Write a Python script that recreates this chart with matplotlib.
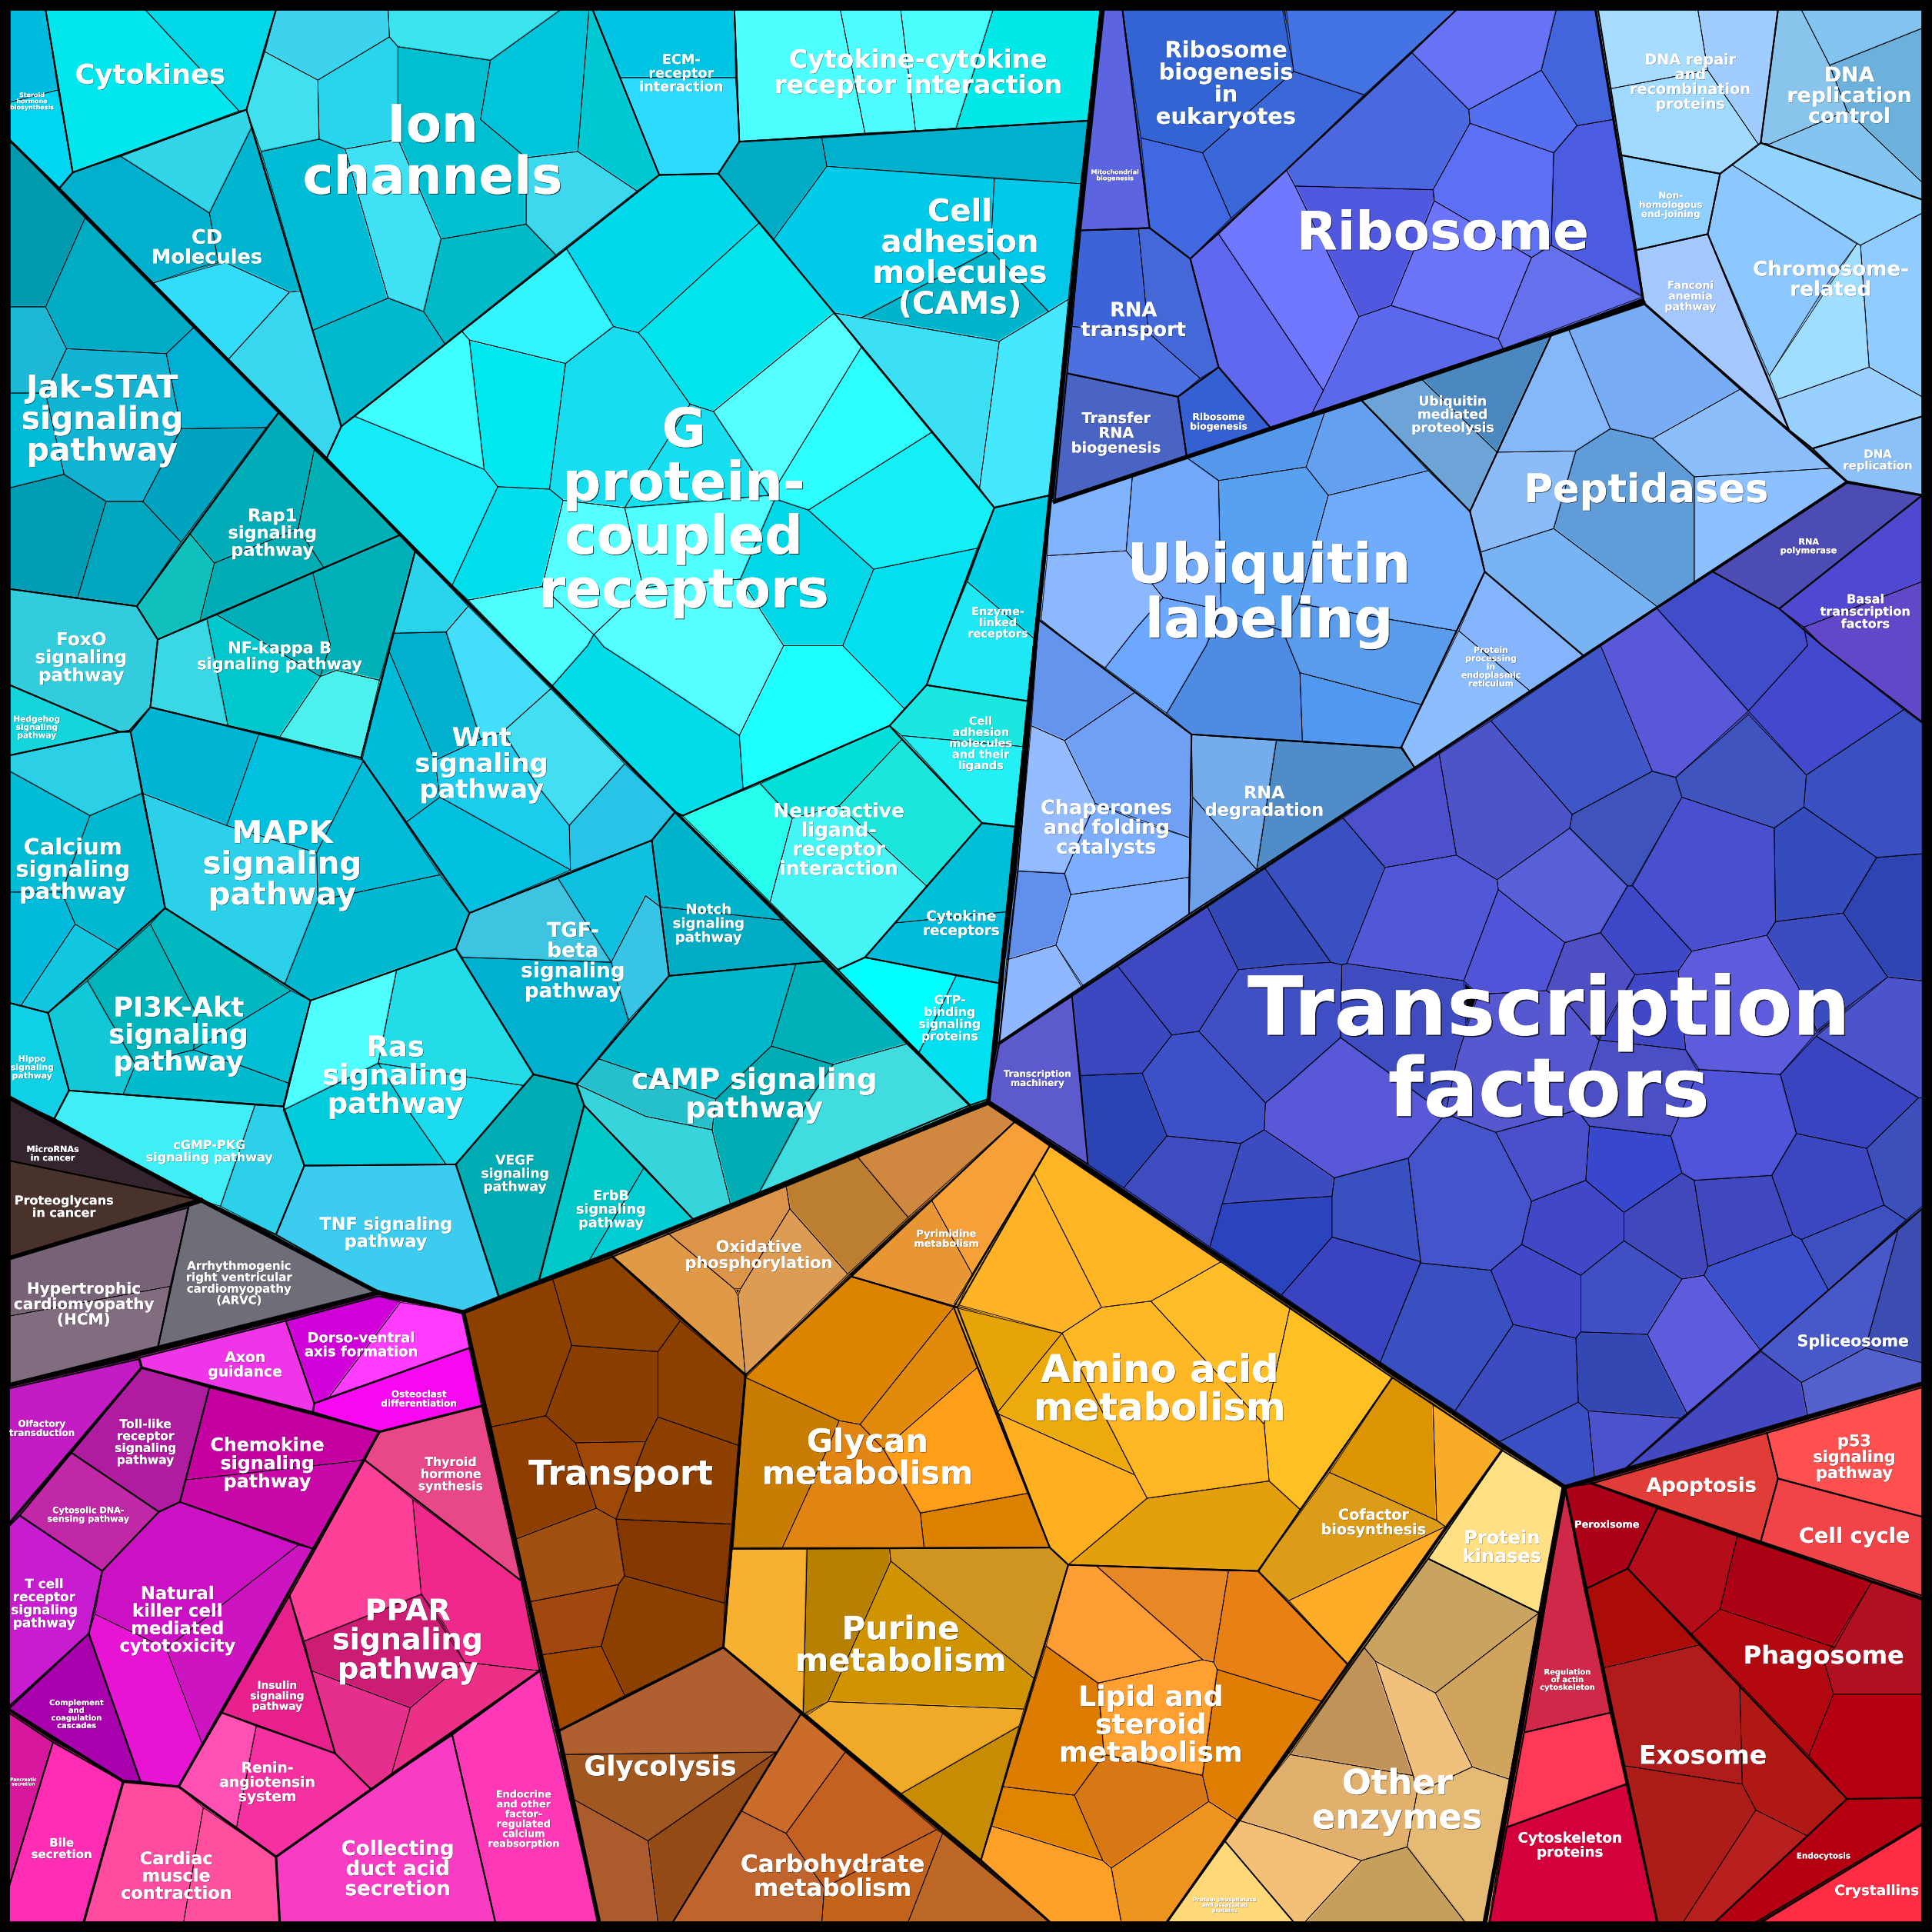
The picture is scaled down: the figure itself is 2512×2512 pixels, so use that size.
import matplotlib
matplotlib.use("Agg")
import matplotlib.pyplot as plt
import matplotlib.patheffects as pe
from matplotlib.patches import Polygon, Rectangle

# Voronoi treemap. Each cell: colour, then vertices x,y,x,y...
# TEAL: environmental information processing (upper block)
UPPER_CELLS = [
 ("#00bbdd",8,8,37,8,47,73,8,83),("#00d5f2",8,83,47,73,59,140,48,153,8,114),
 ("#00e8ee",37,8,118,8,194,90,59,140),("#00d8e8",118,8,224,8,200,89,194,90),
 ("#33d5e8",98,127,200,89,204,104,170,173),("#00b0cc",59,140,98,127,170,173,177,212,123,230,48,153),
 ("#00b5cf",170,173,204,104,244,236,235,237,183,213,177,212),("#33ddfa",123,230,183,213,235,237,185,292),
 ("#3ad5ee",185,292,235,237,244,236,277,346,265,372),
 ("#3dd2ee",224,8,315,8,316,30,258,65,215,42),("#3ce5ee",315,8,455,8,398,49,323,38,316,30),
 ("#40e0ee",215,42,258,65,259,113,212,123,200,89),("#28d5ea",258,65,316,30,323,38,323,113,280,121,259,113),
 ("#00bfd0",323,38,398,49,390,97,427,128,427,182,358,194,323,113),("#00c4da",398,49,455,8,478,8,469,123,427,128,390,97),
 ("#00c8d2",478,8,481,8,535,142,517,155,469,123),("#3dd8ee",469,123,517,155,451,207,427,182,427,128),
 ("#00bcd4",212,123,259,113,280,121,315,242,254,268),("#40e0f5",280,121,323,113,358,194,344,253,315,242),
 ("#00bac8",358,194,427,182,451,207,361,279,344,253),("#00b9cc",254,268,315,242,344,253,361,279,277,346),
 ("#00c4e4",481,8,596,8,597,63,503,63),("#2ddbff",503,63,597,63,600,115,583,141,535,142),
 ("#4dffff",596,8,682,8,702,108,600,115),("#4dfdff",682,8,731,8,743,106,702,108),
 ("#4cffff",731,8,806,8,776,104,743,106),("#00e8e8",806,8,893,8,883,98,776,104),
 ("#00acc4",583,141,600,115,667,112,671,135,628,194),("#00b0cc",667,112,883,98,877,149,671,135),
 ("#00cbe8",671,135,807,145,804,203,699,258,677,254,628,194),("#00c8e8",807,145,877,149,867,243,851,253,804,203),
 ("#00b4cc",699,258,804,203,851,253,811,277),("#3be0f5",677,254,811,277,795,396),
 ("#45e8ff",811,277,867,243,852,402,807,412,795,396),
 ("#00cee4",807,412,852,402,839,518,785,472),("#1fe8f5",785,472,839,518,834,569,752,556,764,523),
 ("#1ae8e0",722,589,752,556,834,569,831,606,732,597),("#22f0f5",732,597,831,606,824,671,797,668),
 ("#26ffee",554,662,617,636,643,664,625,732),("#00e0d8",617,636,722,589,732,600,681,654,643,664),
 ("#1ae6dc",732,600,797,668,752,719,681,654),("#45f5f5",643,664,681,654,752,719,702,777,680,787,625,732),
 ("#00c0d8",797,668,824,671,817,740,727,749),("#00bcdc",727,749,817,740,811,798,702,777),
 ("#00ffff",702,777,776,792,746,854,680,787),("#00e0f0",776,792,811,798,802,892,787,897,746,854),
]
GPCR_CELLS = [
 ("#40ffff",288,338,375,269,381,276,393,381),("#00e8f0",381,276,459,295,446,397,404,395,393,381),
 ("#33f5ff",375,269,460,202,498,265,459,295,381,276),("#00d8ec",460,202,535,142,583,141,616,181,524,265,518,270,498,265),
 ("#00e4ec",616,181,677,254,579,334,560,328,524,277,518,270,524,265),("#18dcef",459,295,498,265,518,270,524,277,560,328,507,412,457,406,446,397),
 ("#14eaf8",288,338,393,381,404,395,367,475,265,372,277,346),("#00deec",404,395,446,397,457,406,440,476,380,487,367,475),
 ("#4dffff",380,487,440,476,482,515,477,524,448,557),("#55ffff",457,406,507,412,522,477,482,515,440,476),
 ("#50ffff",507,412,624,402,629,405,601,470,522,477),("#55ffff",579,334,677,254,699,282,630,395,624,402),
 ("#16e0f0",560,328,579,334,624,402,507,412),("#2dffff",699,282,756,351,656,414,629,405,630,395),
 ("#14eef5",756,351,807,412,793,445,709,462,656,414),("#00d8e8",629,405,656,414,709,462,684,524,636,524,601,470),
 ("#00e0f0",709,462,793,445,764,523,752,556,734,575,684,524),("#1cffff",734,575,684,524,636,524,600,597,603,640,722,589),
 ("#55ffff",522,477,601,470,636,524,600,597,524,547,490,525,482,515),
 ("#00dce8",448,557,477,524,482,515,490,525,524,547,600,597,603,640,554,662,548,659),
]
# TEAL: signalling block below the diagonal
LOWER_CELLS = [
 ("#0099ae",8,114,69,177,37,249,8,249),("#00acc4",69,177,157,266,135,287,54,283,37,249),
 ("#1cb8d4",8,249,37,249,54,283,37,319,8,319),("#12b4d4",54,283,135,287,147,348,116,407,86,407,52,385,37,319),
 ("#00b0d4",157,266,226,335,216,347,147,348,135,287),("#00a4c0",147,348,216,347,147,440,116,407),
 ("#00bcd8",8,319,37,319,52,385,8,396),("#009db4",8,396,52,385,86,407,63,485,8,478),
 ("#00a5be",86,407,116,407,147,440,111,492,63,485),
 ("#00acb8",154,433,226,335,255,365,242,429,174,457),("#00b0b4",255,365,325,434,263,461,242,429),
 ("#00acb4",174,457,242,429,263,461,162,505),("#10c0bc",111,492,154,433,174,457,162,505,128,519),
 ("#3ad8e4",128,519,168,502,185,589,122,574),("#00aeb8",176,499,254,465,268,523,260,549),
 ("#00c8cc",168,502,176,499,260,549,227,598,185,589),("#00b0b8",254,465,325,434,337,447,308,552,273,544,260,549,268,523),
 ("#4cf0ec",260,549,273,544,308,552,293,615,227,598),
 ("#2ad5ec",337,447,380,492,362,513,319,514),("#44ddfa",380,492,447,559,408,594,390,600,362,513),
 ("#00b0cc",319,514,362,513,390,600,353,617,316,529),("#00bcd8",316,529,353,617,357,647,330,667,294,616),
 ("#44def2",447,559,507,620,462,670,437,639,408,594),("#1cccec",390,600,408,594,437,639,462,670,463,706,357,647,353,617),
 ("#00c0e0",330,667,357,647,463,706,381,741),("#28c4e8",507,620,548,659,529,682,463,707,462,670),
 ("#00b4d4",122,574,210,596,184,670,116,644,106,594),("#00c0e0",210,596,295,617,257,692,184,670),
 ("#00bbd8",295,617,357,710,258,731,257,692),("#2cd0e8",116,644,184,670,257,692,258,731,231,799,134,737),
 ("#00b8d0",258,731,357,710,381,741,370,770,252,812,231,799),
 ("#2bd0e6",8,613,97,594,106,594,115,644,73,662,8,626),("#00bcd4",8,626,73,662,50,724,8,724),
 ("#00b8d0",73,662,115,644,134,737,96,771,61,750,50,724),("#00bbdc",8,724,50,724,61,750,17,816,8,814),
 ("#12c8e0",61,750,96,771,39,822,17,816),
 ("#10c8d8",39,822,71,796,110,864,100,888,56,885),("#00b4bc",71,796,122,750,160,824,157,852,110,864),
 ("#00b8c0",122,750,134,737,236,804,157,852,160,824),("#00bed4",236,804,252,812,234,879,193,864,157,852),
 ("#00bace",110,864,157,852,193,864,234,879,230,898,100,888),
 ("#40eef5",44,908,56,885,207,897,179,979,163,974),("#2cd0e8",207,897,230,898,247,946,224,1002,179,979),
 ("#50ffff",252,812,322,787,307,863,230,901),("#22dce8",322,787,370,770,433,872,425,881,307,863),
 ("#1adcee",307,863,425,881,370,945,362,945,327,895),("#00ccdc",230,901,307,863,327,895,362,945,247,946),
 ("#00c8c8",474,897,523,947,477,1025,437,1041),("#00ccd4",523,947,563,990,477,1025),
 ("#00b8cc",543,792,646,782,626,849,581,892,485,859),("#00b0b8",646,782,669,780,737,847,676,864,626,849),
 ("#40dce0",676,864,737,847,787,897,615,970,655,895),("#00acb4",626,849,676,864,655,895,615,970,593,978,578,917,581,892),
 ("#26c0cc",468,880,485,859,581,892,578,917,524,906),("#38d4dc",524,906,578,917,593,978,563,990,474,897,468,880),
 ("#00b4cc",529,682,548,659,637,747,536,736),("#00acc4",536,736,637,747,669,780,543,792),
 ("#3ec4e0",370,770,381,741,453,713,496,781,375,777),("#10c0e0",453,713,529,682,536,736,524,727,496,781),
 ("#38c4e4",496,781,524,727,536,736,543,792,510,828),("#00b0d0",375,777,496,781,510,828,485,859,468,880,433,872,370,770),
]
LOWER_SOLO = [
 ("#33ccdd",8,478,111,492,128,519,122,574,105,593,97,594,8,556),("#14d4dc",8,556,97,594,8,613),
 ("#10d0e6",8,814,39,822,56,885,44,908,8,891),("#3cccf0",247,946,370,945,405,1053,376,1065,307,1049,224,1002),
 ("#00acb4",370,945,433,872,468,880,474,897,437,1041,405,1053),
]
# DARK: human disease block
DARK_CELLS = [("#786278",8,1021,153,980,138,1044,8,1068),("#826c80",8,1068,138,1044,128,1094,8,1124)]
DARK_SOLO = [("#332430",8,892,163,974,8,942),("#4a322c",8,942,163,974,8,1020),("#6e6e78",153,979,165,975,307,1049,128,1094)]
# MAGENTA: organismal systems
MAGENTA_CELLS = [
 ("#d000d8",232,1072,307,1052,325,1057,267,1134,255,1139),("#ff3cff",325,1057,376,1065,381,1094,267,1134),
 ("#c400a0",170,1126,308,1162,296,1185,151,1201),("#c808a8",151,1201,296,1185,254,1257,146,1219),
 ("#cc10c4",83,1275,129,1227,146,1219,242,1254,135,1338,77,1310),("#cc14c0",242,1254,254,1257,164,1415,135,1338),
 ("#e814d4",77,1310,135,1338,164,1415,145,1450,114,1446,72,1326),
 ("#ff4ca0",100,1446,145,1450,165,1467,149,1560,68,1560),("#ff50a0",165,1467,224,1507,227,1560,149,1560),
 ("#ff50b4",180,1390,208,1401,192,1483,145,1450),("#f530a0",208,1401,272,1423,301,1452,224,1507,192,1483),
 ("#ff4098",296,1185,335,1217,342,1294,247,1332,235,1295),("#f0288c",335,1217,423,1283,438,1356,377,1349,360,1317,342,1294),
 ("#cc1c74",247,1332,342,1294,377,1349,333,1386,253,1356),("#e4308c",253,1356,333,1386,318,1439,301,1452,272,1423),
 ("#ec3088",377,1349,438,1356,318,1439,333,1386),
]
MAGENTA_SOLO = [
 ("#f035e8",113,1102,232,1072,255,1139,254,1146,115,1110),("#f808f0",255,1139,381,1094,391,1141,308,1162,254,1146),
 ("#b01ca0",115,1110,170,1126,146,1219,129,1227,58,1179),("#c41cc4",7,1127,113,1103,115,1110,58,1179,7,1237),
 ("#c028a8",16,1230,58,1179,129,1227,83,1275),("#c81cd0",7,1239,16,1230,83,1275,72,1326,7,1385),
 ("#a800ac",7,1387,72,1326,114,1446,100,1445),("#d8189c",7,1390,43,1414,7,1532),
 ("#ff2cb4",43,1414,100,1446,68,1560,7,1560,7,1532),("#e8208c",235,1295,272,1423,180,1390),
 ("#e84888",308,1162,391,1141,423,1283,296,1185),("#f83cc4",224,1507,301,1452,367,1408,402,1560,227,1560),
 ("#ff38b8",367,1408,438,1356,486,1560,402,1560),
]
# BROWN / ORANGE: metabolism
BROWN_CELLS = [
 ("#8c4000",376,1065,448,1036,464,1092,443,1149,399,1158),("#8e4200",448,1036,497,1020,552,1072,534,1097,464,1092),
 ("#8a3e00",464,1092,534,1097,534,1150,524,1170,467,1171,443,1149),("#8c4000",534,1097,552,1072,605,1116,599,1173,534,1150),
 ("#8e3e00",399,1158,443,1149,467,1171,484,1224,419,1249),("#a04808",467,1171,524,1170,500,1233,484,1224),
 ("#8e4000",534,1150,599,1173,594,1237,500,1233,524,1170),("#a05010",419,1249,484,1224,500,1233,507,1279,502,1286,430,1300),
 ("#843800",500,1233,594,1237,588,1301,507,1279),("#a04810",430,1300,502,1286,488,1336,440,1343),
 ("#8c4000",502,1286,507,1279,588,1301,587,1337,507,1376,488,1336),("#a04800",440,1343,488,1336,507,1376,453,1405),
 ("#b06030",453,1405,587,1337,650,1391,630,1422,455,1424),("#a05820",455,1424,630,1422,526,1494,465,1460),
 ("#944a14",630,1422,546,1560,534,1560,526,1494),("#ac5c2c",465,1460,526,1494,534,1560,486,1560),
 ("#cc6c2a",650,1391,686,1422,638,1488,602,1470),("#c46020",686,1422,760,1485,669,1532,638,1488),
 ("#be642c",602,1470,638,1488,669,1532,667,1560,546,1560),("#c4641c",669,1532,760,1485,765,1488,737,1560,667,1560),
 ("#be6828",765,1488,852,1560,737,1560),
 ("#d08840",696,939,802,896,824,910,737,988),("#bc7e30",638,962,696,939,737,988,688,1034,641,981),
 ("#e09a46",497,1020,541,1000,596,1046,599,1052,605,1116),("#dc9448",541,1000,638,962,641,981,601,1046,596,1046),
 ("#dc9c54",641,981,688,1034,605,1116,599,1052,601,1046),
 ("#e89634",691,1036,756,974,789,1034,777,1061),("#f8a038",756,974,824,910,852,930,789,1034),
 ("#ffb428",839,952,887,1047,894,1061,862,1082,774,1058,789,1034),("#ffb524",852,930,991,1024,956,1044,934,1056,894,1061,887,1047,839,952),
 ("#ffbe28",934,1056,956,1044,991,1024,1047,1061,1026,1156),("#ffc024",1047,1061,1130,1118,1055,1225,1030,1202,1026,1156),
 ("#ffb824",862,1082,894,1061,934,1056,1026,1156,1030,1202,931,1216,921,1197),("#e6a408",774,1061,862,1082,809,1147),
 ("#ecaa0c",862,1082,921,1197,809,1147),("#ffb020",809,1147,921,1197,931,1216,867,1270,852,1256),
 ("#e4a00c",931,1216,1030,1202,1055,1225,1022,1275,867,1270),
 ("#dc9400",1079,1195,1130,1118,1163,1139,1166,1234),("#f8ac28",1163,1139,1219,1177,1173,1239,1166,1234),
 ("#dc9c18",1021,1275,1079,1195,1166,1234,1173,1239,1046,1299),("#ffac28",1046,1299,1173,1239,1094,1351),
 ("#c8a460",1159,1265,1249,1309,1165,1374,1116,1348,1107,1337),("#d0a45c",1249,1309,1225,1444,1195,1434,1165,1374),
 ("#c09458",1047,1424,1107,1337,1116,1348,1147,1441),("#f0c07c",1116,1348,1165,1374,1195,1434,1150,1455,1147,1441),
 ("#e0b06c",1047,1424,1147,1441,1150,1455,1142,1499,1105,1510,1044,1489,1004,1477),
 ("#e4ba74",1195,1434,1225,1444,1207,1560,1189,1560,1142,1499,1150,1455),("#c4a05c",1105,1510,1142,1499,1189,1560,1059,1560),
 ("#f4c078",1004,1477,1044,1489,1105,1510,1059,1560,1050,1560,994,1494),
 ("#dc8400",605,1118,690,1036,774,1061,698,1156,681,1153),("#e28a0c",774,1061,793,1110,717,1176,698,1156),
 ("#ff9e18",793,1110,834,1212,747,1228,717,1176),("#c87c00",605,1118,681,1153,671,1177,635,1256,595,1256),
 ("#e28412",681,1153,698,1156,717,1176,747,1228,750,1256,635,1256,671,1177),("#dc8000",747,1228,834,1212,852,1256,750,1256),
 ("#f8b030",594,1257,655,1257,652,1391,587,1337),("#b88000",655,1257,722,1257,723,1267,672,1381,652,1391),
 ("#d09420",722,1257,852,1256,867,1270,839,1362,723,1267),("#d09400",723,1267,839,1362,831,1387,672,1381),
 ("#f0aa28",672,1381,831,1387,827,1401,731,1456,655,1392),("#c88c04",827,1401,796,1510,731,1456),
 ("#ff9e34",867,1270,890,1271,976,1347,891,1366,849,1336),("#e88824",890,1271,997,1275,985,1349,976,1347),
 ("#e88014",997,1275,1021,1275,1094,1351,1074,1381,1044,1372,988,1355,985,1349),
 ("#ffa030",976,1347,985,1349,988,1355,976,1441,896,1424,891,1366),("#dc7c00",849,1336,891,1366,896,1424,872,1457,814,1450),
 ("#e07e04",988,1355,1044,1372,1074,1381,1004,1477,981,1462,976,1441),("#d87814",896,1424,976,1441,981,1462,902,1516,895,1510,872,1457),
 ("#e08400",814,1450,872,1457,895,1510,805,1482),("#ffa028",805,1482,895,1510,902,1516,910,1560,852,1560,796,1510),
 ("#f09420",902,1516,981,1462,1004,1477,947,1560,910,1560),
]
BROWN_SOLO = [("#ffe084",1219,1177,1268,1207,1249,1309,1159,1265),("#ffd878",994,1494,1050,1560,947,1560)]
# BLUE: transcription factors block
TF_CELLS = [
 ("#3f56c8",1299,524,1341,626,1276,661,1210,585),("#5858d8",1299,524,1345,494,1372,524,1419,577,1360,631,1341,626),
 ("#404cc8",1345,494,1390,464,1444,494,1464,509,1467,524,1419,577,1372,524),("#4448cc",1464,509,1479,524,1545,576,1466,629,1419,577,1467,524),
 ("#3a50c0",1545,576,1560,587,1560,693,1523,696,1464,655,1466,629),("#4c54c8",1210,585,1276,661,1274,672,1215,714,1182,694,1168,612),
 ("#4c50cc",1168,612,1182,694,1124,704,1090,664),("#3850c0",1026,704,1090,664,1124,704,1093,782,1089,783,1080,781),
 ("#3248b4",980,736,1026,704,1080,781,1044,783,1005,787),("#3e48c0",907,784,980,736,1005,787,973,837,951,840),
 ("#3c48c0",870,808,907,784,951,840,927,871,877,873),("#2a44b4",877,873,927,871,947,922,912,964,883,945),
 ("#3c50c8",927,871,951,840,973,837,1027,895,1026,917,1007,928,947,922),("#3e4cc0",947,922,1007,928,992,977,982,1012,912,964),
 ("#2a44c0",992,977,1044,973,1081,971,1081,1004,1040,1051,982,1012),("#3c4cc0",1007,928,1026,917,1044,929,1083,956,1081,971,992,977),
 ("#5858d8",1044,881,1088,842,1173,904,1143,940,1083,956,1044,929,1026,917,1027,895),
 ("#4050c4",1005,787,1044,783,1080,781,1089,783,1088,842,1044,881,1027,895,973,837),
 ("#3e4cc0",1093,782,1188,796,1190,835,1183,857,1173,904,1088,842,1089,783),("#5058d8",1124,704,1182,694,1215,714,1216,722,1188,796,1093,782),
 ("#5054d8",1216,722,1270,765,1255,804,1200,807,1188,796),("#5860d8",1215,714,1274,672,1321,719,1299,757,1270,765,1216,722),
 ("#3e54bc",1276,661,1341,626,1360,631,1365,647,1324,719,1321,719,1274,672),("#4054c0",1360,631,1419,580,1466,629,1464,655,1440,672,1365,647),
 ("#4850d0",1365,647,1440,672,1441,748,1434,759,1373,772,1325,719),("#344cbc",1440,672,1464,655,1523,696,1496,741,1441,748),
 ("#2e44b0",1523,696,1560,693,1560,796,1532,793,1496,741),("#3a4cc0",1441,748,1496,741,1532,793,1494,821,1474,837,1459,800,1434,759),
 ("#4c54cc",1532,793,1560,796,1560,891,1557,891,1474,841),("#3c48c8",1321,719,1325,719,1373,772,1362,788,1327,791,1299,757),
 ("#4f4fc4",1270,765,1299,757,1327,791,1307,824,1297,844,1272,814,1255,804),("#4048c8",1327,791,1362,788,1368,852,1298,844),
 ("#5c5cdc",1373,772,1434,759,1459,800,1475,837,1445,872,1377,868,1368,852,1362,788),
 ("#5658d0",1255,804,1272,814,1298,844,1290,869,1280,901,1214,919,1173,904,1183,857,1190,835,1200,807),
 ("#4a50c4",1298,844,1368,852,1379,868,1356,922,1290,914,1280,901),("#5054d8",1379,868,1445,872,1458,920,1438,954,1375,958,1365,952,1356,922),
 ("#3a44c0",1474,841,1557,891,1515,932,1458,920,1445,872),("#3c50bc",1557,891,1560,891,1560,979,1547,990,1529,978,1515,932),
 ("#3c46c0",1458,920,1515,932,1529,978,1462,1006,1455,1002,1438,954),("#4048c0",1375,958,1438,954,1455,1002,1386,1028),
 ("#3c50c0",1462,1006,1529,978,1547,990,1484,1047),("#3a50cc",1386,1028,1455,1002,1462,1006,1484,1047,1429,1096,1392,1047,1383,1035),
 ("#4048bc",1365,952,1375,958,1386,1028,1383,1035,1365,1038,1318,1007,1318,984),("#3848cc",1290,914,1356,922,1365,952,1318,984,1287,958),
 ("#4a50cc",1214,919,1280,901,1290,914,1287,958,1243,975),("#4654cc",1143,940,1173,904,1214,919,1243,975,1235,1010,1210,1031,1153,1025),
 ("#4048c8",1243,975,1287,958,1318,984,1318,1007,1283,1035,1235,1010),("#3850c0",1083,956,1143,940,1153,1024,1081,1004,1081,971),
 ("#3a44c0",1040,1051,1081,1004,1153,1024,1120,1106),("#3850c0",1153,1025,1210,1031,1228,1075,1181,1145,1120,1106),
 ("#4048c8",1210,1031,1235,1010,1283,1035,1283,1081,1279,1086,1228,1075),("#3c4cc0",1228,1075,1279,1086,1281,1138,1217,1170,1181,1145),
 ("#3448b4",1283,1081,1337,1083,1369,1147,1364,1151,1289,1145,1281,1138,1279,1086),("#4050c4",1283,1035,1318,1007,1365,1038,1337,1083,1283,1081),
 ("#5c5cdc",1365,1038,1383,1035,1392,1047,1429,1096,1369,1147,1337,1083),("#3850c4",1281,1138,1289,1145,1294,1199,1270,1207,1217,1170),
 ("#4c52cc",1289,1145,1364,1151,1319,1192,1294,1199),
 ("#5048d0",1444,494,1560,402,1560,472,1464,509),("#6048c8",1464,509,1560,472,1560,586,1479,524),
 ("#4448c0",1320,1192,1429,1097,1462,1122,1467,1149),("#4858c8",1429,1096,1484,1047,1541,996,1514,1094,1462,1122),
 ("#3c4cb0",1541,996,1560,981,1560,1106,1514,1094),("#5460cc",1462,1122,1514,1094,1560,1106,1560,1123,1467,1149),
]
TF_SOLO = [("#5c5acc",811,847,870,808,883,945,802,893),("#4c4cb4",1390,464,1499,392,1560,402,1444,494)]
# BLUE: ribosome block
RIBO_CELLS = [
 ("#3264d4",911,8,1041,8,1050,58,976,124,926,112),("#4474e4",1044,8,1182,8,1107,77,1050,58),
 ("#3a68d8",1050,58,1107,77,1044,138,999,177,976,124),("#4068e0",926,112,976,124,999,177,966,210,933,185),
 ("#3c64d8",877,187,924,186,932,270,870,265),("#4468d8",924,186,933,185,966,210,989,298,974,307,932,270),
 ("#4c70e0",870,265,932,270,974,307,956,322,866,303),
 ("#6872f4",1146,43,1182,8,1263,8,1251,57,1192,89),("#4264dc",1263,8,1295,8,1309,97,1280,102,1251,57),
 ("#4c68e0",1044,138,1146,43,1192,89,1193,100,1163,154,1051,151),("#5470f0",1192,89,1251,57,1280,102,1261,124,1193,100),
 ("#5c70f4",1193,100,1261,124,1259,199,1243,209,1164,163,1163,154),("#4c5ce0",1261,124,1280,102,1309,97,1333,240,1259,199),
 ("#5058e0",1051,151,1163,154,1164,163,1129,248,1103,257),("#6c74fa",1164,163,1243,209,1216,275,1129,248),
 ("#6470ec",1243,209,1259,199,1333,241,1220,283,1216,275),("#5c68ec",1103,257,1129,248,1216,275,1220,283,1065,335,1074,317),
 ("#7078ff",989,190,1044,138,1051,151,1103,257,1074,317),("#6068f0",966,210,989,190,1074,317,1065,335,1031,347,989,298),
]
RIBO_SOLO = [("#5c64e0",896,8,911,8,933,185,877,187),("#4a64c4",866,303,956,322,963,370,856,407),("#3460d4",956,322,989,298,1031,347,963,370)]
# LIGHT BLUE: folding, degradation, DNA
UBI_CELLS = [
 ("#80b4ff",852,407,919,387,914,447,850,451),("#74a8f8",919,387,964,372,989,390,991,495,944,485,932,470,914,447),
 ("#5498ec",964,372,1044,345,1075,335,1060,379,989,390),("#64a0f0",1075,335,1105,325,1159,382,1078,402,1060,379),
 ("#58a0f0",989,390,1060,379,1078,402,1054,490,1041,512,991,495),("#70acfc",1078,402,1159,382,1193,415,1205,464,1182,512,1054,490),
 ("#8cb8ff",850,451,914,447,932,470,944,485,922,510,897,542,871,524,845,503),("#6ca8ff",944,485,991,495,979,524,947,579,897,542,922,510),
 ("#5098f0",1055,546,1154,572,1137,607,1057,602),("#5a9cec",1054,490,1182,512,1177,523,1154,572,1055,546,1041,512),
 ("#4e8ce4",991,495,1041,512,1055,546,1057,602,967,596,947,579,979,524),
 ("#74acec",967,596,1036,601,1020,706,968,647),("#6ca0e8",968,647,1020,706,965,742),("#508cc8",1036,601,1138,607,1148,623,1020,706),
 ("#6494ec",843,503,871,524,921,562,864,601,837,589),("#70a0f4",864,601,921,562,967,596,966,680,925,667,889,652),
 ("#94bcff",837,589,864,601,889,652,864,709,826,707),("#7caeff",889,652,966,680,965,712,869,726,864,709),
 ("#6090ec",826,707,864,709,869,726,857,767,817,779),("#80b0ff",869,726,965,712,965,742,879,800,857,767),
 ("#90b8ff",817,779,857,767,878,801,811,846),
 ("#84b4fc",1205,464,1285,532,1242,561,1184,512),("#8cbeff",1184,512,1242,561,1148,623,1137,607),
 ("#4c88c0",1154,308,1259,272,1215,367),("#6ca4d8",1105,325,1154,308,1215,367,1193,415),
 ("#84b8f8",1259,272,1273,267,1307,348,1279,366,1215,367),("#78acf4",1273,267,1334,246,1412,316,1341,356,1307,348),
 ("#8cbefc",1412,316,1486,380,1375,387,1341,356),("#8cc0ff",1375,387,1486,380,1499,391,1375,472),
 ("#8cbcf8",1215,367,1279,366,1261,429,1202,448,1193,415),("#609cd8",1279,366,1307,348,1341,356,1375,387,1375,472,1346,493,1261,429),
 ("#78b4f4",1202,448,1261,429,1346,493,1285,532,1205,464),
 ("#a8dcff",1297,8,1378,8,1386,57,1307,72),("#a0ccff",1378,8,1443,8,1429,116,1427,117,1386,57),
 ("#a0daff",1307,72,1386,57,1427,117,1396,141,1316,126),
 ("#88c4ec",1443,8,1462,8,1485,53,1499,90,1436,117,1429,116),("#84c4f0",1462,8,1560,8,1560,23,1485,53),
 ("#6cb0dc",1485,53,1560,23,1560,148,1499,90),("#84c4f0",1436,117,1499,90,1560,148,1560,162,1429,116),
 ("#90d4ff",1406,134,1429,116,1560,162,1560,173,1510,199),("#8cc8ff",1396,141,1406,134,1507,198,1481,233,1436,305,1386,190),
 ("#a0deff",1507,198,1510,199,1517,298,1443,324,1436,305),("#90ccff",1510,199,1560,173,1560,322,1517,298),
 ("#98d0ff",1443,324,1517,298,1560,322,1560,338,1471,364,1452,349),
]
UBI_SOLO = [("#90d0ff",1316,126,1396,141,1386,190,1328,203),("#a4c8ff",1328,203,1386,190,1452,349,1334,246),("#8cc0f8",1471,364,1560,338,1560,402,1499,391)]
# RED block
RED_CELLS = [
 ("#b40c18",1345,1224,1410,1247,1396,1306,1373,1326,1321,1273),("#ac0014",1410,1247,1519,1284,1489,1337,1396,1306),
 ("#b01020",1519,1284,1560,1298,1560,1375,1488,1375,1480,1347),("#b40810",1396,1306,1489,1337,1480,1347,1488,1375,1468,1425,1373,1326),
 ("#b40010",1488,1375,1560,1375,1560,1459,1499,1460,1468,1425),("#ac0c08",1286,1290,1321,1273,1379,1335,1300,1354),
 ("#b01c1c",1300,1354,1379,1335,1412,1369,1414,1448,1318,1433),("#b01814",1412,1369,1499,1460,1467,1490,1425,1469,1414,1448),
 ("#ac1c18",1318,1433,1414,1448,1425,1469,1366,1560,1345,1560),("#b82020",1425,1469,1467,1490,1392,1560,1366,1560),
]
RED_SOLO = [
 ("#e03c38",1292,1204,1434,1163,1443,1200,1429,1251),("#ff5050",1434,1163,1560,1126,1560,1231,1443,1200),
 ("#f04448",1443,1200,1560,1231,1560,1295,1429,1251),("#ac0018",1270,1207,1292,1204,1345,1224,1321,1273,1286,1290),
 ("#b40010",1499,1460,1560,1459,1560,1480,1425,1560,1392,1560),("#ff2c44",1560,1481,1560,1560,1430,1560),
 ("#d02848",1270,1207,1307,1390,1237,1406),("#ff3858",1237,1406,1307,1390,1320,1448,1223,1483),
 ("#d4003c",1223,1483,1320,1448,1345,1560,1209,1560),
]
# Outlines of pathways that hold several cells
PATHWAY_OUTLINES = [
 (8,8,37,8,59,140,48,153,8,114),(37,8,224,8,200,89,59,140),(59,140,200,89,277,346,265,372,48,153),
 (224,8,481,8,535,142,277,346,200,89),(481,8,596,8,600,115,583,141,535,142),(596,8,893,8,883,98,600,115),
 (583,141,600,115,883,98,852,402,807,412,677,254),(807,412,852,402,834,569,752,556,764,523),
 (722,589,752,556,834,569,824,671,797,668,732,600),(554,662,722,589,732,600,797,668,702,777,680,787,548,659),
 (797,668,824,671,811,798,702,777),(702,777,811,798,802,892,787,897,680,787),
 (277,346,535,142,583,141,677,254,807,412,764,523,752,556,722,589,554,662,548,659,265,372),
 (8,114,226,335,111,492,8,478),(226,335,325,434,128,519,111,492),(128,519,325,434,337,447,293,615,122,574),
 (337,447,548,659,529,682,381,741,293,615),(106,594,122,574,293,615,381,741,370,770,252,812,134,737),
 (8,613,97,594,106,594,134,737,39,822,8,814),(39,822,134,737,252,812,230,898,56,885),
 (44,908,56,885,230,898,247,946,224,1002,163,974),(252,812,370,770,433,872,370,945,247,946,230,898),
 (474,897,563,990,437,1041),(543,792,669,780,787,897,563,990,474,897,468,880),(529,682,548,659,669,780,543,792),
 (370,770,381,741,529,682,543,792,468,880,433,872),
 (8,1021,153,980,128,1094,8,1124),(232,1072,307,1052,376,1065,381,1094,255,1139),(170,1126,308,1162,254,1257,146,1219),
 (83,1275,129,1227,146,1219,254,1257,145,1450,114,1446,72,1326),(100,1446,145,1450,224,1507,227,1560,68,1560),
 (180,1390,272,1423,301,1452,224,1507,145,1450),(296,1185,423,1283,438,1356,301,1452,272,1423,235,1295),
 (376,1065,497,1020,605,1116,587,1337,453,1405),(453,1405,587,1337,650,1391,546,1560,486,1560),(650,1391,852,1560,546,1560),
 (497,1020,802,896,824,910,605,1116),(824,910,852,930,777,1061,691,1036),(852,930,1130,1118,1021,1275,867,1270,852,1256,774,1061),
 (1130,1118,1219,1177,1094,1351,1021,1275),(1159,1265,1249,1309,1205,1560,947,1560),
 (605,1116,691,1036,777,1061,852,1256,594,1257),(594,1257,852,1256,867,1270,796,1510,587,1337),
 (867,1270,1021,1275,1094,1351,947,1560,852,1560,796,1510),
 (1444,494,1560,402,1560,586,1479,524),(1319,1192,1484,1047,1560,981,1560,1123),
 (911,8,1182,8,1044,138,966,210,933,185),(877,187,933,185,966,210,989,298,956,322,866,303),
 (1182,8,1295,8,1334,246,1031,347,989,298,966,210,1044,138),
 (852,407,1105,325,1193,415,1205,464,1137,607,967,596,871,524,843,503),(967,596,1138,607,1148,623,965,742),
 (843,503,871,524,967,596,965,742,811,846,826,707),(1205,464,1285,532,1148,623,1137,607,1177,523),
 (1105,325,1259,272,1193,415),(1259,272,1334,246,1499,391,1285,532,1205,464,1193,415),
 (1297,8,1443,8,1429,116,1396,141,1316,126),(1443,8,1560,8,1560,162,1429,116),
 (1396,141,1429,116,1560,162,1560,338,1471,364,1452,349,1386,190),
 (1345,1224,1560,1298,1560,1459,1499,1460,1321,1273),(1286,1290,1321,1273,1499,1460,1392,1560,1345,1560),
]
GROUP_LINES = [
 (8,114,48,153,185,292,265,372,337,447,448,557,548,659,669,780,787,897),
 (1295,8,1334,246,1499,391,1560,402),(811,847,1499,391),
 (497,1020,605,1116,587,1337,796,1510,852,1560),(453,1405,587,1337),
 (1219,1177,1094,1351,947,1560),(1270,1207,1345,1560),(1292,1204,1560,1298),
 (115,1110,308,1162,145,1450,224,1507,438,1356),(224,1507,227,1560),(145,1450,100,1446,68,1560),
 (100,1446,7,1387),(115,1110,7,1237),(308,1162,391,1141),(113,1103,115,1110),
]
TOP_LINES = [
 (894,8,852,407,802,895),(8,891,163,974,307,1049,376,1065,802,895),(8,1124,307,1049),(8,1021,163,974),
 (376,1065,453,1405,486,1560),(802,895,1270,1207,1560,1123),(1270,1207,1205,1560),(856,407,1334,246),
]
# Labels: text, centre x, centre y, line pitch
LABELS = [
 ("Transcription\nfactors",1257,849,66),("Ion\nchannels",351,121,42),("G\nprotein-\ncoupled\nreceptors",555,412,43.5),
 ("Ribosome",1171,187,43),("Ubiquitin\nlabeling",1030,479,44.5),("Peptidases",1336,396,32),("Cytokines",122,60,22),
 ("CD\nMolecules",168,200,16),("Jak-STAT\nsignaling\npathway",83,339,25.5),("Rap1\nsignaling\npathway",221,432,14),
 ("ECM-\nreceptor\ninteraction",553,59,11),("Cytokine-cytokine\nreceptor interaction",745,58,20.6),
 ("Cell\nadhesion\nmolecules\n(CAMs)",779,208,25),("Enzyme-\nlinked\nreceptors",810,505,9),
 ("Cell\nadhesion\nmolecules\nand their\nligands",796,603,9),("Neuroactive\nligand-\nreceptor\ninteraction",681,681,15.6),
 ("Cytokine\nreceptors",780,749,11.5),("GTP-\nbinding\nsignaling\nproteins",771,826,9.8),("Notch\nsignaling\npathway",575,749,11.3),
 ("cAMP signaling\npathway",612,887,23.2),("TGF-\nbeta\nsignaling\npathway",465,779,16.4),("Wnt\nsignaling\npathway",391,619,21),
 ("NF-kappa B\nsignaling pathway",227,532,13),("FoxO\nsignaling\npathway",66,533,14.5),("Hedgehog\nsignaling\npathway",30,590,6.6),
 ("MAPK\nsignaling\npathway",229,700,25),("Calcium\nsignaling\npathway",59,705,18),("PI3K-Akt\nsignaling\npathway",145,839,22),
 ("Hippo\nsignaling\npathway",26,866,6.8),("Ras\nsignaling\npathway",321,872,23),("cGMP-PKG\nsignaling pathway",170,934,10),
 ("TNF signaling\npathway",313,1000,14),("VEGF\nsignaling\npathway",418,952,10.7),("ErbB\nsignaling\npathway",496,981,11),
 ("MicroRNAs\nin cancer",43,936,7),("Proteoglycans\nin cancer",52,979,10),("Hypertrophic\ncardiomyopathy\n(HCM)",68,1058,12.5),
 ("Arrhythmogenic\nright ventricular\ncardiomyopathy\n(ARVC)",194,1041,9.3),("Axon\nguidance",199,1107,11.7),
 ("Dorso-ventral\naxis formation",293,1091,11.3),("Osteoclast\ndifferentiation",340,1135,7.5),("Olfactory\ntransduction",34,1159,7.4),
 ("Toll-like\nreceptor\nsignaling\npathway",118,1170,9.7),("Chemokine\nsignaling\npathway",217,1187,14.8),
 ("Cytosolic DNA-\nsensing pathway",72,1229,7),("T cell\nreceptor\nsignaling\npathway",36,1301,10.5),
 ("Natural\nkiller cell\nmediated\ncytotoxicity",144,1314,14.2),("Complement\nand\ncoagulation\ncascades",62,1391,6.2),
 ("Pancreatic\nsecretion",19,1446,3.6),("Bile\nsecretion",50,1500,9.4),("Cardiac\nmuscle\ncontraction",143,1522,14),
 ("PPAR\nsignaling\npathway",331,1330,23.7),("Thyroid\nhormone\nsynthesis",366,1196,9.8),("Insulin\nsignaling\npathway",225,1376,8.5),
 ("Renin-\nangiotensin\nsystem",217,1446,11.7),("Collecting\nduct acid\nsecretion",323,1516,16.3),
 ("Endocrine\nand other\nfactor-\nregulated\ncalcium\nreabsorption",425,1476,8),("Transport",504,1195,27.6),("Glycolysis",536,1433,22),
 ("Carbohydrate\nmetabolism",676,1522,19.4),("Oxidative\nphosphorylation",616,1018,13),("Pyrimidine\nmetabolism",768,1005,8),
 ("Glycan\nmetabolism",704,1182,26),("Amino acid\nmetabolism",941,1126,31),("Cofactor\nbiosynthesis",1115,1235,12),
 ("Protein\nkinases",1219,1255,15),("Purine\nmetabolism",731,1334,26),("Lipid and\nsteroid\nmetabolism",934,1399,22.6),
 ("Protein phosphatase\nand associated\nproteins",994,1546,4.4),("Other\nenzymes",1134,1460,28),
 ("Ribosome\nbiogenesis\nin\neukaryotes",995,67,18),("Mitochondrial\nbiogenesis",905,142,5),("RNA\ntransport",920,259,16),
 ("Transfer\nRNA\nbiogenesis",906,351,12),("Ribosome\nbiogenesis",989,342,7.7),
 ("DNA repair\nand\nrecombination\nproteins",1372,66,12),("DNA\nreplication\ncontrol",1501,77,16.7),
 ("Non-\nhomologous\nend-joining",1356,166,7.5),("Fanconi\nanemia\npathway",1372,240,8.7),("Chromosome-\nrelated",1486,226,16.3),
 ("DNA\nreplication",1524,373,9.3),("Ubiquitin\nmediated\nproteolysis",1179,336,10.7),
 ("Protein\nprocessing\nin\nendoplasmic\nreticulum",1210,541,6.8),("RNA\npolymerase",1468,443,7),
 ("Basal\ntranscription\nfactors",1514,496,10),("Chaperones\nand folding\ncatalysts",898,671,16),("RNA\ndegradation",1026,650,14),
 ("Transcription\nmachinery",842,875,7.4),("Spliceosome",1504,1088,12.8),("Apoptosis",1381,1205,16),
 ("p53\nsignaling\npathway",1505,1182,13),("Cell cycle",1505,1246,17),("Phagosome",1480,1343,20),("Exosome",1382,1424,20.7),
 ("Peroxisome",1304,1237,8),("Regulation\nof actin\ncytoskeleton",1272,1363,6.2),("Cytoskeleton\nproteins",1274,1497,11.5),
 ("Endocytosis",1480,1506,6.5),("Crystallins",1523,1534,11.5),("Steroid\nhormone\nbiosynthesis",26,82,5),
]

CANVAS = 1568
PX = 2512 / CANVAS          # output pixels per picture unit
PT = PX * 0.72              # points per picture unit at dpi 100

fig = plt.figure(figsize=(25.12, 25.12), dpi=100, facecolor="black")
ax = fig.add_axes([0, 0, 1, 1])
ax.set_xlim(0, CANVAS)
ax.set_ylim(CANVAS, 0)
ax.axis("off")

def pts(seq):
    return [(seq[i], seq[i + 1]) for i in range(0, len(seq), 2)]

LEAF = UPPER_CELLS + GPCR_CELLS + LOWER_CELLS + DARK_CELLS + MAGENTA_CELLS + BROWN_CELLS + TF_CELLS + RIBO_CELLS + UBI_CELLS + RED_CELLS
SOLO = LOWER_SOLO + DARK_SOLO + MAGENTA_SOLO + BROWN_SOLO + TF_SOLO + RIBO_SOLO + UBI_SOLO + RED_SOLO

for cell in LEAF + SOLO:      # fill, with a same-coloured stroke closing hairline gaps
    ax.add_patch(Polygon(pts(cell[1:]), closed=True, fc=cell[0], ec=cell[0], lw=2.2, joinstyle="round", zorder=1))
for cell in LEAF:
    ax.add_patch(Polygon(pts(cell[1:]), closed=True, fill=False, ec="black", lw=0.6, zorder=2))
for cell in SOLO:
    ax.add_patch(Polygon(pts(cell[1:]), closed=True, fill=False, ec="black", lw=1.4, joinstyle="round", zorder=3))
for o in PATHWAY_OUTLINES:
    ax.add_patch(Polygon(pts(o), closed=True, fill=False, ec="black", lw=1.4, joinstyle="round", zorder=3))
for line in GROUP_LINES:
    p = pts(line)
    ax.plot([a for a, b in p], [b for a, b in p], color="black", lw=2.3, solid_joinstyle="round", zorder=4)
for line in TOP_LINES:
    p = pts(line)
    ax.plot([a for a, b in p], [b for a, b in p], color="black", lw=4.0, solid_joinstyle="round", zorder=5)

ax.add_patch(Rectangle((0, 0), CANVAS, CANVAS, fill=False, ec="black", lw=8 * 2 * PT, zorder=6))

for text, cx, cy, pitch in LABELS:
    lines = text.split("\n")
    size = pitch * PT
    off = max(0.3, size * 0.016)
    for i, line in enumerate(lines):
        y = cy + (i - (len(lines) - 1) / 2) * pitch + 0.36 * pitch
        ax.text(cx, y, line, ha="center", va="baseline", color="white", fontsize=size,
                family="DejaVu Sans", fontweight="bold", zorder=7,
                path_effects=[pe.withSimplePatchShadow(offset=(off, -off), shadow_rgbFace="black", alpha=0.7), pe.Normal()])

fig.savefig("out.png", dpi=100, facecolor="black")
